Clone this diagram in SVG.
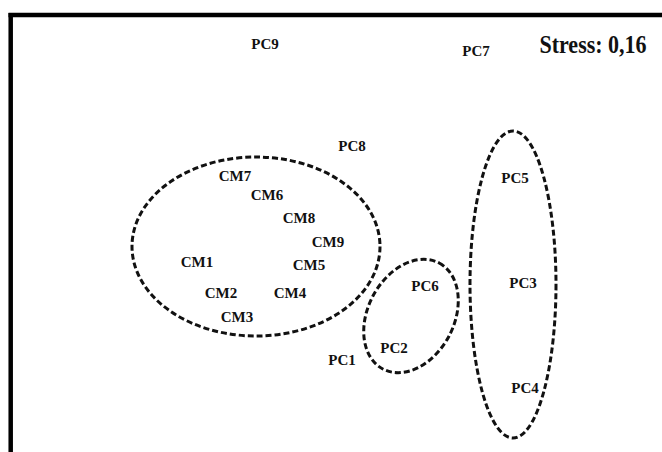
<svg xmlns="http://www.w3.org/2000/svg" width="662" height="452" viewBox="0 0 662 452">
<style>
.lbl{font-family:"Liberation Serif","Times New Roman",serif;font-weight:bold;font-size:15px;fill:#111;text-anchor:middle}
.grp{fill:none;stroke:#111;stroke-width:3;stroke-dasharray:6 3}
</style>
<rect width="662" height="452" fill="#fff"/>
<g id="frame">
<line x1="8.5" y1="15" x2="662" y2="15" stroke="#000" stroke-width="4.5"/>
<line x1="10.7" y1="13" x2="10.7" y2="452" stroke="#000" stroke-width="4.5"/>
</g>
<text transform="translate(593 53) scale(1 1.15)" style="font-family:'Liberation Serif','Times New Roman',serif;font-weight:bold;font-size:22px;fill:#111;text-anchor:middle">Stress: 0,16</text>
<g id="connectors">
<ellipse class="grp" cx="256" cy="246.5" rx="124" ry="89.5"/>
<ellipse class="grp" cx="0" cy="0" rx="60" ry="43" transform="translate(411 316) rotate(-62)"/>
<ellipse class="grp" cx="513" cy="284.5" rx="43" ry="153.5"/>
</g>
<g id="PC9"><text class="lbl" x="265" y="49">PC9</text></g>
<g id="PC7"><text class="lbl" x="476" y="56">PC7</text></g>
<g id="PC8"><text class="lbl" x="352" y="151">PC8</text></g>
<g id="CM7"><text class="lbl" x="235" y="181">CM7</text></g>
<g id="CM6"><text class="lbl" x="267" y="200">CM6</text></g>
<g id="CM8"><text class="lbl" x="299" y="223">CM8</text></g>
<g id="CM9"><text class="lbl" x="328" y="247">CM9</text></g>
<g id="CM1"><text class="lbl" x="197" y="267">CM1</text></g>
<g id="CM5"><text class="lbl" x="309" y="270">CM5</text></g>
<g id="CM2"><text class="lbl" x="221" y="298">CM2</text></g>
<g id="CM4"><text class="lbl" x="290" y="298">CM4</text></g>
<g id="CM3"><text class="lbl" x="237" y="322">CM3</text></g>
<g id="PC6"><text class="lbl" x="425" y="291">PC6</text></g>
<g id="PC2"><text class="lbl" x="394" y="353">PC2</text></g>
<g id="PC1"><text class="lbl" x="342" y="365">PC1</text></g>
<g id="PC5"><text class="lbl" x="515" y="183">PC5</text></g>
<g id="PC3"><text class="lbl" x="523" y="288">PC3</text></g>
<g id="PC4"><text class="lbl" x="525" y="393">PC4</text></g>
</svg>
